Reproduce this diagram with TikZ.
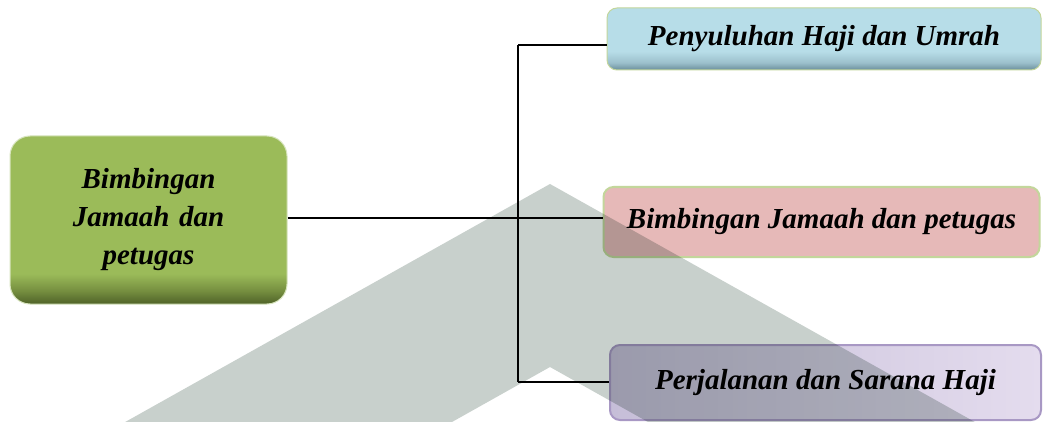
\documentclass[tikz,border=0pt]{standalone}
\usepackage{fontspec}
\setmainfont{Liberation Serif}
\usetikzlibrary{positioning}
\definecolor{gbase}{HTML}{9BBB59}
\definecolor{gdark}{HTML}{4F6228}
\definecolor{gmid}{HTML}{768F40}
\definecolor{gborder}{HTML}{D7E4BD}
\definecolor{bbase}{HTML}{B7DDE8}
\definecolor{bmid}{HTML}{9CC0CC}
\definecolor{bdark}{HTML}{6A8E9B}
\definecolor{pbase}{HTML}{E6B9B8}
\definecolor{lborder}{HTML}{C3D69B}
\definecolor{vleft}{HTML}{C6BED8}
\definecolor{vright}{HTML}{E4DCEE}
\definecolor{vtop}{HTML}{A898C4}
\definecolor{wm}{HTML}{C8D0CC}
\pgfdeclareverticalshading{gshade}{100bp}{color(0bp)=(gdark); color(25bp)=(gdark); color(29bp)=(gmid); color(34bp)=(gbase); color(100bp)=(gbase)}
\pgfdeclareverticalshading{bshade}{100bp}{color(0bp)=(bdark); color(25bp)=(bdark); color(31bp)=(bmid); color(40bp)=(bbase); color(100bp)=(bbase)}
\tikzset{
  lbl/.style={font=\fontsize{29}{38}\selectfont\bfseries\itshape, text=black},
  box/.style={lbl, rounded corners=10pt, inner sep=0pt, align=center},
  conn/.style={line width=2.6pt, black},
}
\begin{document}
\begin{tikzpicture}[x=1pt,y=-1pt]
\useasboundingbox (0,0) rectangle (1043,422);
\clip (0,0) rectangle (1043,422);
\fill[white] (0,0) rectangle (1043,422);
% nodes
\node[box, rounded corners=20pt, shading=gshade, draw=gborder, line width=1pt, minimum width=277pt, minimum height=168pt, text width=250pt]
  (root) at (148.5,220) {Bimbingan\\Jamaah dan\\petugas};
\node[box, shading=bshade, draw=lborder, line width=1pt, minimum width=434pt, minimum height=62pt]
  (top) at (824,39) {Penyuluhan Haji dan Umrah};
\node[box, fill=pbase, draw=lborder, line width=2pt, minimum width=436pt, minimum height=70pt]
  (mid) at (821.5,222) {Bimbingan Jamaah dan petugas};
\node[box, left color=vleft, right color=vright, draw=vtop, line width=2pt, minimum width=431pt, minimum height=75pt]
  (bot) at (825.5,382.5) {Perjalanan dan Sarana Haji};
% connectors
\coordinate (jt) at (518,45);
\coordinate (jb) at (518,382);
\draw[conn] (root.east |- 0,218) -- (mid.west |- 0,218);
\draw[conn] (jt) -- (jb);
\draw[conn] (jt) -- (top.west |- jt);
\draw[conn] (jb) -- (bot.west |- jb);
% watermark
\begin{scope}[blend mode=multiply]
\fill[wm, even odd rule] (550,184) -- (1114,500) -- (-14,500) -- cycle
  (550,367) -- (787,500) -- (313,500) -- cycle;
\end{scope}
\end{tikzpicture}
\end{document}
